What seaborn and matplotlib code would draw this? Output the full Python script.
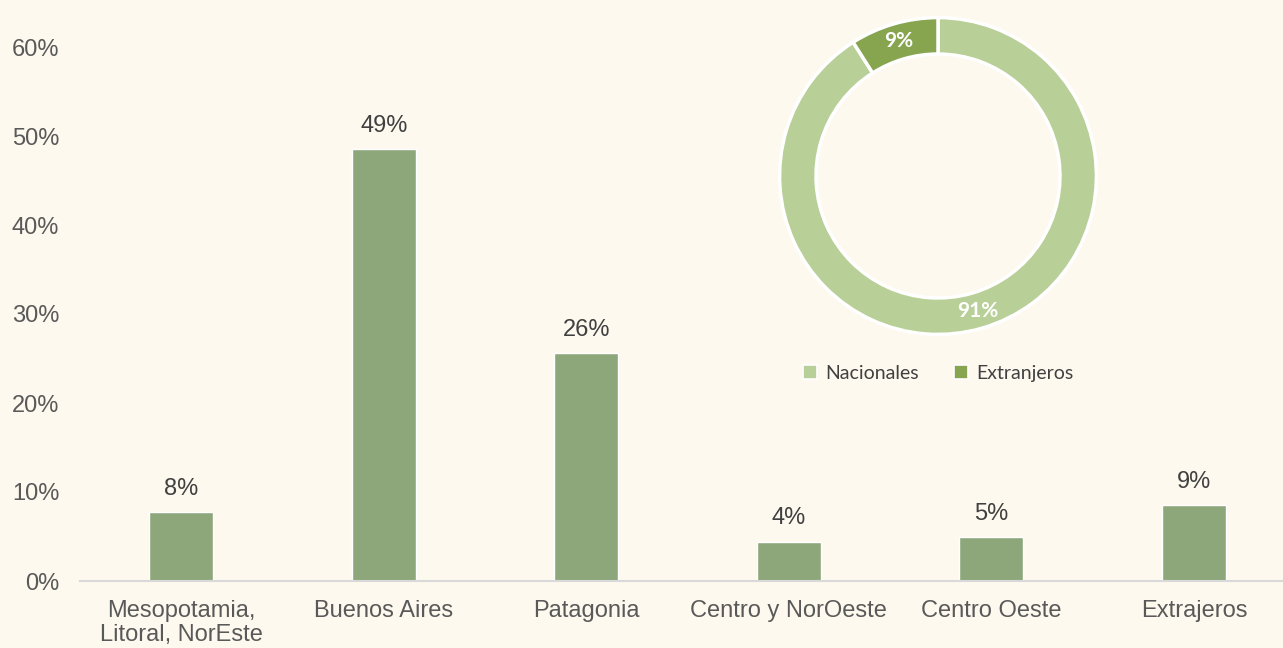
import numpy as np
import pandas as pd
import matplotlib.pyplot as plt
from matplotlib.patches import Patch
import seaborn as sns

regiones = ["Mesopotamia,\nLitoral, NorEste", "Buenos Aires", "Patagonia",
            "Centro y NorOeste", "Centro Oeste", "Extrajeros"]
porcentajes = [0.077, 0.485, 0.256, 0.044, 0.049, 0.085]
etiquetas = ["8%", "49%", "26%", "4%", "5%", "9%"]

origen = ["Nacionales", "Extranjeros"]
origen_pct = [0.91, 0.09]
origen_lbl = ["91%", "9%"]

bg = "#FEF9EE"
bar_color = "#8DA77B"
donut_colors = ["#B9CF98", "#87A54F"]
txt = "#404040"

sns.set_theme(style="white")
plt.rcParams["font.family"] = ["Liberation Sans", "DejaVu Sans"]

df = pd.DataFrame({"region": regiones, "pct": porcentajes})

fig = plt.figure(figsize=(12.83, 6.48), dpi=100, facecolor=bg)
ax = fig.add_axes([80 / 1283, 67 / 648, (1283 - 80) / 1283, (581 - 47) / 648])
ax.set_facecolor(bg)

sns.barplot(data=df, x="region", y="pct", color=bar_color, width=0.315,
            saturation=1, ax=ax)
ax.bar_label(ax.containers[0], labels=etiquetas, padding=9, fontsize=17, color=txt)

ax.set_ylim(0, 0.6)
ax.set_xlim(-0.5, 5.44)
ax.set_yticks(np.arange(0, 0.61, 0.1))
ax.set_yticklabels([f"{int(round(v * 100))}%" for v in np.arange(0, 0.61, 0.1)])
ax.set_xlabel("")
ax.set_ylabel("")
ax.tick_params(axis="both", labelsize=17, labelcolor="#595959", length=0)
ax.tick_params(axis="y", pad=15)
ax.tick_params(axis="x", pad=14)
for s in ["top", "right", "left"]:
    ax.spines[s].set_visible(False)
ax.spines["bottom"].set_color("#D9D9D9")
ax.spines["bottom"].set_linewidth(1.5)
for t in ax.get_xticklabels():
    t.set_linespacing(1.1)

# donut
ax2 = fig.add_axes([778 / 1283, 312 / 648, 320 / 1283, 320 / 648])
wedges, _ = ax2.pie(origen_pct, colors=donut_colors, startangle=90, counterclock=False,
                    wedgeprops=dict(width=0.23, edgecolor="white", linewidth=2.5))
ax2.set_xlim(-1.01, 1.01)
ax2.set_ylim(-1.01, 1.01)
ax2.set_aspect("equal")

for w, lbl in zip(wedges, origen_lbl):
    mid = np.deg2rad((w.theta1 + w.theta2) / 2)
    r = 0.89
    ax2.text(r * np.cos(mid), r * np.sin(mid), lbl, ha="center", va="center",
             color="white", fontsize=15, fontweight="bold", family=["Lato", "DejaVu Sans"])

handles = [Patch(facecolor=c, edgecolor="white", linewidth=1.2) for c in donut_colors]
ax2.legend(handles, origen, loc="upper center", bbox_to_anchor=(0.5, -0.035), ncol=2,
           frameon=False, handlelength=0.75, handleheight=0.75,
           columnspacing=1.8, handletextpad=0.4,
           prop={"family": ["Lato", "DejaVu Sans"], "size": 14},
           labelcolor="#404040")

fig.savefig("out.png", dpi=100, facecolor=bg)
